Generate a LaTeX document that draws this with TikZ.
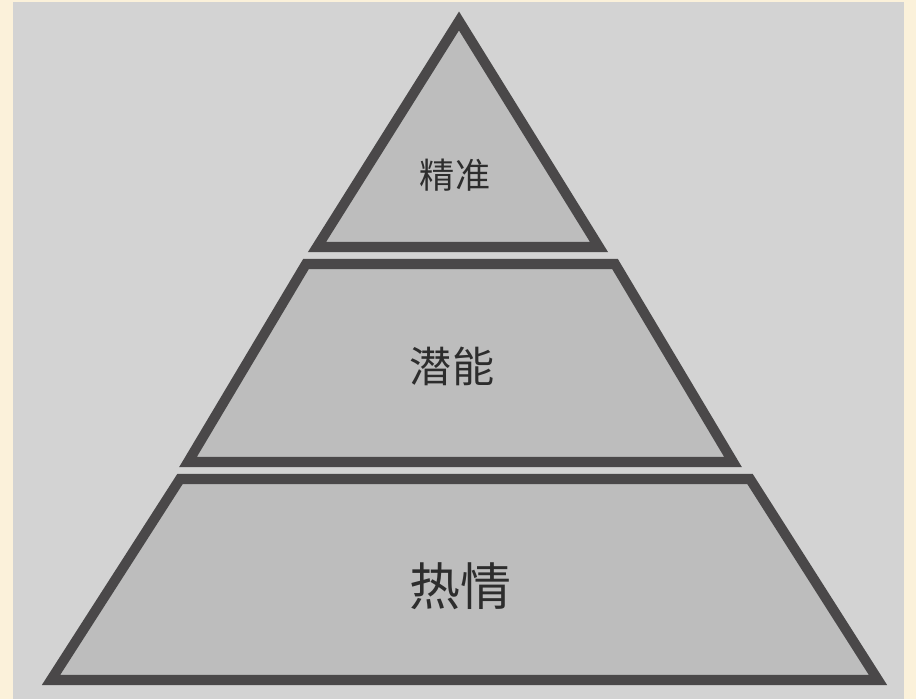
\documentclass[tikz,border=0pt]{standalone}
\usepackage{fontspec}
\newfontfamily\cjk{Noto Sans CJK SC}
\definecolor{cream}{RGB}{251,241,218}
\definecolor{bggray}{RGB}{211,211,211}
\definecolor{layergray}{RGB}{189,189,189}
\definecolor{edgegray}{RGB}{74,72,73}
\definecolor{textgray}{RGB}{45,45,45}
\tikzset{
  layer/.style={draw=edgegray,fill=layergray,line width=5.7pt,miter limit=20},
  lbl/.style={text=textgray,inner sep=0pt}
}
\begin{document}
\begin{tikzpicture}[x=0.02cm,y=-0.02cm]
    \fill[cream] (0,0) rectangle (916,699);
    \useasboundingbox (0,0) rectangle (916,699);
    \fill[bggray] (13,2) rectangle (904,699);
    % three layers
    \draw[layer] (459,21) -- (599,247) -- (317,247) -- cycle;
    \draw[layer] (306,264) -- (615,264) -- (733,462) -- (188,462) -- cycle;
    \draw[layer] (180,479) -- (750,479) -- (878,680) -- (51,680) -- cycle;
    \node[lbl] (top) at (455,175) {\cjk\fontsize{20pt}{20pt}\selectfont 精准};
    \node[lbl] (mid) at (452,366) {\cjk\fontsize{24pt}{24pt}\selectfont 潜能};
    \node[lbl] (bot) at (460,586) {\cjk\fontsize{29pt}{29pt}\selectfont 热情};
\end{tikzpicture}
\end{document}
